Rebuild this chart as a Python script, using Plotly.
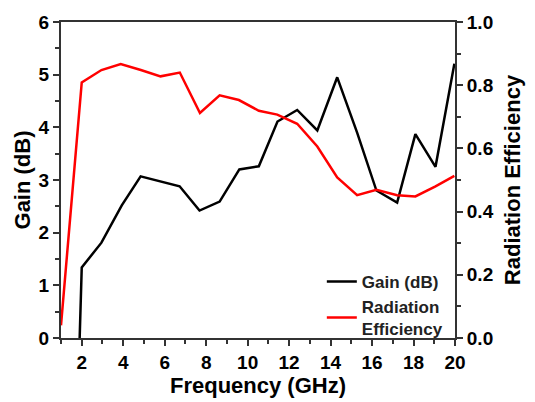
import plotly.graph_objects as go

freq_gain = [1.90, 2.0, 2.95, 3.93, 4.84, 5.8, 6.72, 7.68, 8.65, 9.6, 10.54, 11.44,
             12.39, 13.36, 14.32, 15.28, 16.21, 17.21, 18.09, 19.06, 19.97]
gain = [0.0, 1.34, 1.81, 2.52, 3.07, 2.98, 2.88, 2.42, 2.59, 3.20, 3.26, 4.11,
        4.33, 3.94, 4.95, 3.9, 2.80, 2.57, 3.87, 3.25, 5.21]

freq_eff = [1.0, 2.0, 2.95, 3.88, 4.85, 5.8, 6.73, 7.70, 8.65, 9.58, 10.54, 11.43,
            12.39, 13.36, 14.32, 15.28, 16.21, 17.21, 18.09, 19.06, 19.97]
eff = [0.04, 0.809, 0.848, 0.867, 0.848, 0.828, 0.84, 0.712, 0.768, 0.753, 0.719, 0.707,
       0.678, 0.606, 0.508, 0.452, 0.469, 0.452, 0.448, 0.48, 0.513]

FONT = "Liberation Sans"

fig = go.Figure()
fig.add_trace(go.Scatter(x=freq_gain, y=gain, mode="lines", name="<b>Gain (dB)</b>",
                         line=dict(color="black", width=2.5), yaxis="y"))
fig.add_trace(go.Scatter(x=freq_eff, y=eff, mode="lines", name="<b>Radiation<br>Efficiency</b>",
                         line=dict(color="#ff0000", width=2.5), yaxis="y2"))

tickfont = dict(family=FONT, size=19, color="black")
titlefont = dict(family=FONT, size=22, color="black")

fig.update_layout(
    width=535, height=402,
    margin=dict(l=61, r=80, t=19, b=59),
    paper_bgcolor="white", plot_bgcolor="white",
    showlegend=True,
    legend=dict(x=0.662, y=-0.028, xanchor="left", yanchor="bottom",
                font=dict(family=FONT, size=17, color="#222"),
                bgcolor="rgba(0,0,0,0)", tracegroupgap=3),
    xaxis=dict(range=[1, 20], tickmode="array", tickvals=list(range(2, 21, 2)),
               ticktext=[f"<b>{v}</b>" for v in range(2, 21, 2)],
               ticks="outside", ticklen=6, tickwidth=2, tickcolor="#333",
               minor=dict(tickvals=list(range(1, 21, 2)), ticks="outside", ticklen=4, tickwidth=1.5, tickcolor="#333"),
               showline=True, linecolor="#333", linewidth=2, mirror=True,
               showgrid=False, zeroline=False, tickfont=tickfont,
               title=dict(text="<b>Frequency (GHz)</b>", font=titlefont, standoff=2)),
    yaxis=dict(range=[0, 6], tickvals=list(range(0, 7)),
               ticktext=[f"<b>{v}</b>" for v in range(0, 7)],
               ticks="outside", ticklen=6, tickwidth=2, tickcolor="#333",
               minor=dict(tickvals=[0.5, 1.5, 2.5, 3.5, 4.5, 5.5], ticks="outside", ticklen=4, tickwidth=1.5, tickcolor="#333"),
               showline=True, linecolor="#333", linewidth=2,
               showgrid=False, zeroline=False, tickfont=tickfont,
               title=dict(text="<b>Gain (dB)</b>", font=titlefont, standoff=2)),
    yaxis2=dict(range=[0, 1], overlaying="y", side="right",
                tickvals=[0, 0.2, 0.4, 0.6, 0.8, 1.0],
                ticktext=[f"<b>{v:.1f}</b>" for v in [0, 0.2, 0.4, 0.6, 0.8, 1.0]],
                ticks="outside", ticklen=6, tickwidth=2, tickcolor="#333",
                minor=dict(tickvals=[0.1, 0.3, 0.5, 0.7, 0.9], ticks="outside", ticklen=4, tickwidth=1.5, tickcolor="#333"),
                showline=True, linecolor="#333", linewidth=2,
                showgrid=False, zeroline=False, tickfont=tickfont,
                title=dict(text="<b>Radiation Efficiency</b>", font=titlefont, standoff=12)),
)

fig.write_html("out.html")
